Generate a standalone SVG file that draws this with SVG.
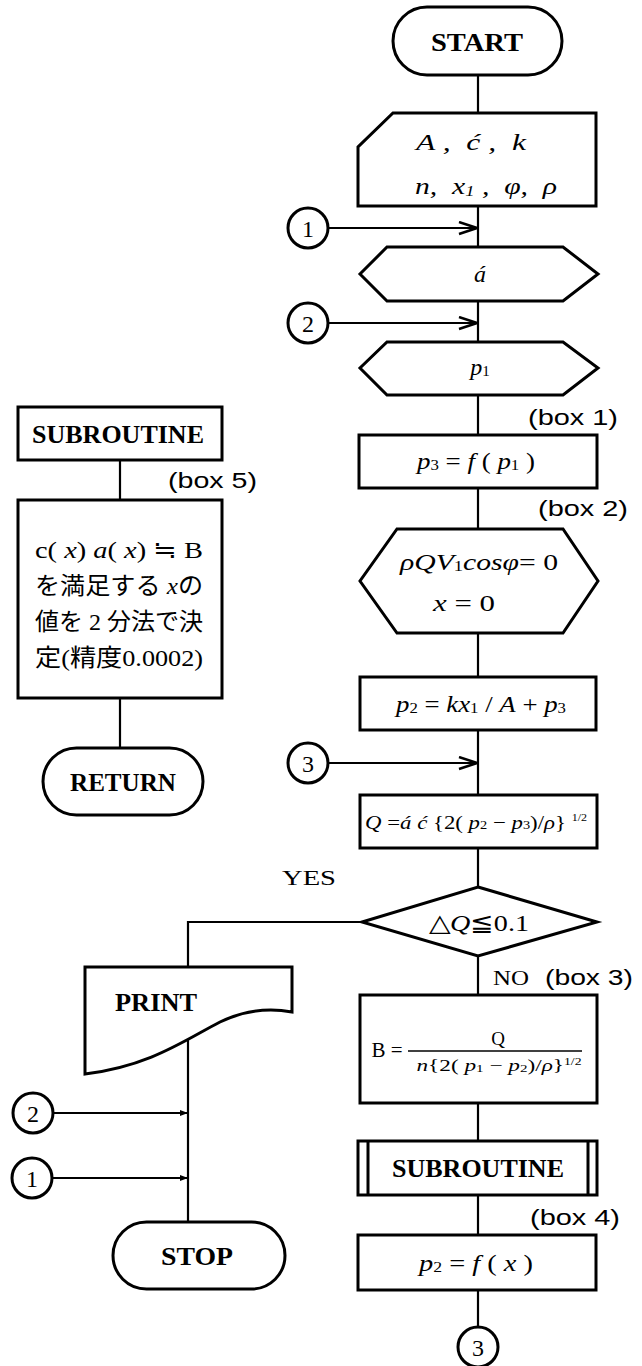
<svg xmlns="http://www.w3.org/2000/svg" width="642" height="1366" viewBox="0 0 642 1366">
<style>
.s{fill:#fff;stroke:#000;stroke-width:3;stroke-linejoin:miter}
.c{fill:none;stroke:#000;stroke-width:2.2}
.t{font-family:"Liberation Serif",serif;fill:#000;text-anchor:middle;dominant-baseline:central}
.b{font-weight:bold;font-size:25px}
.m{font-style:italic;font-size:24px}
.n{font-size:24px}
.l{font-family:"Liberation Sans","DejaVu Sans",sans-serif;font-size:22px;fill:#000;dominant-baseline:central}
.j{font-family:"Liberation Serif","Noto Sans CJK JP",serif;font-size:24px;fill:#000;dominant-baseline:central}
</style>
<defs>
<marker id="open" markerUnits="userSpaceOnUse" markerWidth="22" markerHeight="16" refX="20" refY="7" orient="auto">
<path d="M2,1 L20,7 L2,13" fill="none" stroke="#000" stroke-width="2.5"/>
</marker>
<marker id="dot" markerUnits="userSpaceOnUse" markerWidth="10" markerHeight="8" refX="8" refY="4" orient="auto">
<path d="M0,1 L8,4 L0,7 Z" fill="#000"/>
</marker>
</defs>
<rect width="642" height="1366" fill="#fff"/>

<g id="connectors">
<path class="c" d="M478,75 V113 M478,206 V247 M478,301 V342 M478,395 V435 M478,488 V529 M478,633 V677 M478,730 V795 M478,848 V887 M478,956 V995 M478,1103 V1141 M478,1195 V1235 M478,1290 V1327"/>
<line class="c" x1="328" y1="228" x2="477" y2="228" marker-end="url(#open)"/>
<line class="c" x1="328" y1="323" x2="477" y2="323" marker-end="url(#open)"/>
<line class="c" x1="328" y1="763" x2="477" y2="763" marker-end="url(#open)"/>
<polyline class="c" points="362,922 188,922 188,967"/>
<line class="c" x1="188" y1="1040" x2="188" y2="1222"/>
<line class="c" x1="53" y1="1113" x2="188" y2="1113" marker-end="url(#dot)"/>
<line class="c" x1="52" y1="1178" x2="188" y2="1178" marker-end="url(#dot)"/>
<path class="c" d="M120,460 V500 M120,698 V748"/>
</g>

<g id="start">
<rect class="s" x="393" y="7" width="169" height="68" rx="34"/>
<text class="t b" x="477" y="42" textLength="92" lengthAdjust="spacingAndGlyphs">START</text>
</g>

<g id="input">
<path class="s" d="M393,113 H596 V206 H358 V147 Z"/>
<text class="t m" x="471" y="142" textLength="110" lengthAdjust="spacingAndGlyphs" xml:space="preserve">A ,  ć ,  k</text>
<text class="t m" x="486" y="186" textLength="142" lengthAdjust="spacingAndGlyphs" xml:space="preserve">n,  x<tspan font-size="15" dy="5">1</tspan><tspan dy="-5"> ,  φ,  ρ</tspan></text>
</g>

<g id="conn1">
<circle class="s" cx="308" cy="228" r="20" stroke-width="2.5"/>
<text class="t n" x="308" y="229">1</text>
</g>

<g id="hex_a">
<polygon class="s" points="387,247 563,247 598,274 563,301 387,301 360,274"/>
<text class="t m" x="480" y="274">á</text>
</g>

<g id="conn2">
<circle class="s" cx="308" cy="323" r="20" stroke-width="2.5"/>
<text class="t n" x="308" y="324">2</text>
</g>

<g id="hex_p1">
<polygon class="s" points="387,342 563,342 598,368 563,395 387,395 360,368"/>
<text class="t m" x="480" y="367">p<tspan font-size="15" font-style="normal" dy="4">1</tspan></text>
</g>

<g id="box1">
<text class="l" x="528" y="417" textLength="90" lengthAdjust="spacingAndGlyphs">(box 1)</text>
<rect class="s" x="359" y="435" width="238" height="53"/>
<text class="t m" x="476" y="461" textLength="118" lengthAdjust="spacingAndGlyphs">p<tspan font-size="15" font-style="normal" dy="4">3</tspan><tspan dy="-4" font-style="normal"> = </tspan>f<tspan font-style="normal"> ( </tspan>p<tspan font-size="15" font-style="normal" dy="4">1</tspan><tspan dy="-4" font-style="normal"> )</tspan></text>
</g>

<g id="box2">
<text class="l" x="538" y="508" textLength="90" lengthAdjust="spacingAndGlyphs">(box 2)</text>
<polygon class="s" points="397,529 563,529 598,581 563,633 397,633 360,581"/>
<text class="t m" x="479" y="562" textLength="158" lengthAdjust="spacingAndGlyphs">ρQV<tspan font-size="15" font-style="normal" dy="4">1</tspan><tspan dy="-4">cosφ</tspan><tspan font-style="normal">= 0</tspan></text>
<text class="t m" x="464" y="603" textLength="62" lengthAdjust="spacingAndGlyphs">x<tspan font-style="normal"> = 0</tspan></text>
</g>

<g id="box_p2">
<rect class="s" x="360" y="677" width="236" height="53"/>
<text class="t m" x="481" y="704" textLength="170" lengthAdjust="spacingAndGlyphs">p<tspan font-size="15" font-style="normal" dy="4">2</tspan><tspan dy="-4" font-style="normal"> = </tspan>kx<tspan font-size="15" font-style="normal" dy="4">1</tspan><tspan dy="-4" font-style="normal"> / </tspan>A<tspan font-style="normal"> + </tspan>p<tspan font-size="15" font-style="normal" dy="4">3</tspan></text>
</g>

<g id="conn3">
<circle class="s" cx="308" cy="763" r="20" stroke-width="2.5"/>
<text class="t n" x="308" y="764">3</text>
</g>

<g id="box_q">
<rect class="s" x="360" y="795" width="237" height="53"/>
<text class="t" x="476" y="822" font-size="19" textLength="222" lengthAdjust="spacingAndGlyphs"><tspan font-style="italic">Q</tspan> =<tspan font-style="italic">á ć</tspan> {2( <tspan font-style="italic">p</tspan><tspan font-size="12" dy="3">2</tspan><tspan dy="-3"> − </tspan><tspan font-style="italic">p</tspan><tspan font-size="12" dy="3">3</tspan><tspan dy="-3">)/</tspan><tspan font-style="italic">ρ</tspan>} <tspan font-size="10" dy="-5">1/2</tspan></text>
</g>

<g id="decision">
<polygon class="s" points="478,887 597,922 478,956 362,922"/>
<text class="t n" x="479" y="923" textLength="100" lengthAdjust="spacingAndGlyphs">△<tspan font-style="italic">Q</tspan>≦0.1</text>
<text class="t" x="309" y="877" font-size="22" textLength="54" lengthAdjust="spacingAndGlyphs">YES</text>
<text class="t" x="511" y="977" font-size="22" textLength="36" lengthAdjust="spacingAndGlyphs">NO</text>
<text class="l" x="545" y="977" textLength="88" lengthAdjust="spacingAndGlyphs">(box  3)</text>
</g>

<g id="box_b">
<rect class="s" x="360" y="995" width="237" height="108"/>
<text class="t" x="387" y="1050" font-size="21">B =</text>
<text class="t" x="498" y="1038" font-size="19">Q</text>
<line x1="408" y1="1051" x2="582" y2="1051" stroke="#000" stroke-width="1.3"/>
<text class="t" x="499" y="1065" font-size="17" textLength="165" lengthAdjust="spacingAndGlyphs"><tspan font-style="italic">n</tspan>{2( <tspan font-style="italic">p</tspan><tspan font-size="11" dy="3">1</tspan><tspan dy="-3"> − </tspan><tspan font-style="italic">p</tspan><tspan font-size="11" dy="3">2</tspan><tspan dy="-3">)/</tspan><tspan font-style="italic">ρ</tspan>}<tspan font-size="10" dy="-4">1/2</tspan></text>
</g>

<g id="subroutine_call">
<rect class="s" x="358" y="1141" width="239" height="54"/>
<path d="M368,1141 V1195 M588,1141 V1195" stroke="#000" stroke-width="3"/>
<text class="t b" x="478" y="1168" textLength="172" lengthAdjust="spacingAndGlyphs">SUBROUTINE</text>
</g>

<g id="box4">
<text class="l" x="530" y="1217" textLength="90" lengthAdjust="spacingAndGlyphs">(box 4)</text>
<rect class="s" x="358" y="1235" width="238" height="55"/>
<text class="t m" x="476" y="1263" textLength="114" lengthAdjust="spacingAndGlyphs">p<tspan font-size="15" font-style="normal" dy="4">2</tspan><tspan dy="-4" font-style="normal"> = </tspan>f<tspan font-style="normal"> ( </tspan>x<tspan font-style="normal"> )</tspan></text>
</g>

<g id="conn3_out">
<circle class="s" cx="478" cy="1347" r="20" stroke-width="2.5"/>
<text class="t n" x="478" y="1348">3</text>
</g>

<g id="print">
<path class="s" d="M85,967 H292 V1012 C270,1008 245,1010 220,1022 C185,1040 150,1066 85,1074 Z"/>
<text class="t b" x="156" y="1002" font-size="22" textLength="82" lengthAdjust="spacingAndGlyphs">PRINT</text>
</g>

<g id="conn2_left">
<circle class="s" cx="33" cy="1113" r="20" stroke-width="2.5"/>
<text class="t n" x="33" y="1114">2</text>
</g>

<g id="conn1_left">
<circle class="s" cx="32" cy="1178" r="20" stroke-width="2.5"/>
<text class="t n" x="32" y="1179">1</text>
</g>

<g id="stop">
<rect class="s" x="113" y="1222" width="172" height="67" rx="33.5"/>
<text class="t b" x="197" y="1256" textLength="72" lengthAdjust="spacingAndGlyphs">STOP</text>
</g>

<g id="subroutine_def">
<rect class="s" x="18" y="407" width="204" height="53"/>
<text class="t b" x="118" y="434" textLength="172" lengthAdjust="spacingAndGlyphs">SUBROUTINE</text>
</g>

<g id="box5">
<text class="l" x="168" y="480" textLength="89" lengthAdjust="spacingAndGlyphs">(box 5)</text>
<rect class="s" x="18" y="500" width="204" height="198"/>
<text class="j" x="35" y="550" textLength="168" lengthAdjust="spacingAndGlyphs">c( <tspan font-style="italic">x</tspan>) <tspan font-style="italic">a</tspan>( <tspan font-style="italic">x</tspan>) ≒ B</text>
<text class="j" x="35" y="586" textLength="168" lengthAdjust="spacingAndGlyphs">を満足する <tspan font-style="italic">x</tspan>の</text>
<text class="j" x="35" y="622" textLength="168" lengthAdjust="spacingAndGlyphs">値を 2 分法で決</text>
<text class="j" x="35" y="658" textLength="168" lengthAdjust="spacingAndGlyphs">定(精度0.0002)</text>
</g>

<g id="return">
<rect class="s" x="43" y="748" width="160" height="67" rx="33.5"/>
<text class="t b" x="123" y="782" textLength="106" lengthAdjust="spacingAndGlyphs">RETURN</text>
</g>
</svg>
